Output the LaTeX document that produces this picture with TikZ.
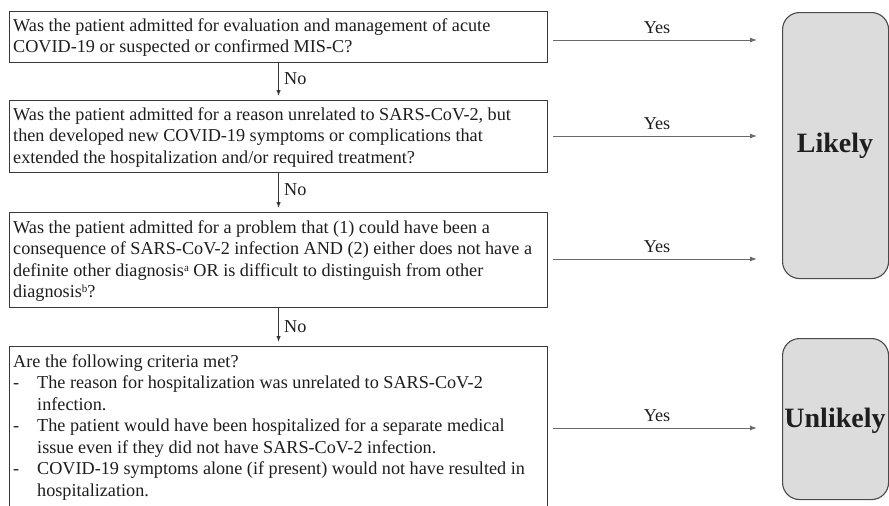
\documentclass[tikz,border=0pt]{standalone}
\usepackage{fontspec}
\setmainfont{Liberation Serif}
\usetikzlibrary{arrows.meta}
\definecolor{boxc}{HTML}{383838}
\definecolor{arrc}{HTML}{6A6A6A}
\definecolor{outc}{HTML}{4A4A4A}
\definecolor{outfill}{HTML}{DCDCDC}
\definecolor{txtc}{HTML}{1E1E1E}
\tikzset{
  qbox/.style={draw=boxc, line width=1.1pt, anchor=north west, inner sep=0pt},
  qtext/.style={anchor=north west, inner sep=0pt, align=left, text=txtc,
    font=\fontsize{18.2}{21.5}\selectfont},
  lbl/.style={inner sep=0pt, text=txtc, font=\fontsize{18.2}{21.5}\selectfont},
  yesarrow/.style={draw=arrc, line width=1pt, -{Latex[length=7pt,width=5pt]}},
  noarrow/.style={draw=boxc, line width=0.9pt, -{Latex[length=6pt,width=4.5pt]}},
  outbox/.style={draw=outc, fill=outfill, rounded corners=17pt, line width=1.1pt,
    anchor=north west, inner sep=0pt},
  outtext/.style={inner sep=0pt, text=txtc, font=\fontsize{28}{30}\selectfont\bfseries}
}
\begin{document}
\begin{tikzpicture}[x=1pt,y=-1pt]
\useasboundingbox (0,0) rectangle (889,506);
\fill[white] (0,0) rectangle (889,506);

% question boxes
\node[qbox, minimum width=538pt, minimum height=51pt] (q1) at (9,11) {};
\node[qbox, minimum width=538pt, minimum height=72pt] (q2) at (9,100) {};
\node[qbox, minimum width=538pt, minimum height=95pt] (q3) at (9,212) {};
\node[qbox, minimum width=538pt, minimum height=164pt] (q4) at (9,346) {};

% question texts
\node[qtext] (t1) at (13,15.95) {\strut Was the patient admitted for evaluation and management of acute\\
COVID-19 or suspected or confirmed MIS-C?};
\node[qtext] (t2) at (13,104.95) {\strut Was the patient admitted for a reason unrelated to SARS-CoV-2, but\\
then developed new COVID-19 symptoms or complications that\\
extended the hospitalization and/or required treatment?};
\node[qtext] (t3) at (13,217.95) {\strut Was the patient admitted for a problem that (1) could have been a\\
consequence of SARS-CoV-2 infection AND (2) either does not have a\\
definite other diagnosis{\fontsize{11}{11}\selectfont\raisebox{5pt}{a}} OR is difficult to distinguish from other\\
diagnosis{\fontsize{11}{11}\selectfont\raisebox{5pt}{b}}?};
\node[qtext] (t4) at (13,351.95) {\strut Are the following criteria met?\\
\makebox[24pt][l]{-}The reason for hospitalization was unrelated to SARS-CoV-2\\
\hspace*{24pt}infection.\\
\makebox[24pt][l]{-}The patient would have been hospitalized for a separate medical\\
\hspace*{24pt}issue even if they did not have SARS-CoV-2 infection.\\
\makebox[24pt][l]{-}COVID-19 symptoms alone (if present) would not have resulted in\\
\hspace*{24pt}hospitalization.};

% outcome boxes
\node[outbox, minimum width=106pt, minimum height=266pt] (likely) at (782,12) {};
\node[outbox, minimum width=106pt, minimum height=161pt] (unlikely) at (782,338) {};
\node[outtext, anchor=base] (lt) at (835,152) {Likely};
\node[outtext, anchor=base] (ut) at (835,427) {Unlikely};

% No arrows
\draw[noarrow] (q1.south) -- ([yshift=4pt]q2.north);
\draw[noarrow] (q2.south) -- ([yshift=4pt]q3.north);
\draw[noarrow] (q3.south) -- ([yshift=4pt]q4.north);
\node[lbl, anchor=base west] (n1) at (284,84) {No};
\node[lbl, anchor=base west] (n2) at (284,195) {No};
\node[lbl, anchor=base west] (n3) at (284,332) {No};

% Yes arrows
\coordinate (s1) at (553,40);
\coordinate (s2) at (553,136);
\coordinate (s3) at (553,259);
\coordinate (s4) at (553,428);
\draw[yesarrow] (s1) -- ([xshift=-25pt]likely.west |- s1);
\draw[yesarrow] (s2) -- ([xshift=-25pt]likely.west |- s2);
\draw[yesarrow] (s3) -- ([xshift=-25pt]likely.west |- s3);
\draw[yesarrow] (s4) -- ([xshift=-25pt]unlikely.west |- s4);
\node[lbl, anchor=base] (y1) at (657,33) {Yes};
\node[lbl, anchor=base] (y2) at (657,129) {Yes};
\node[lbl, anchor=base] (y3) at (657,252) {Yes};
\node[lbl, anchor=base] (y4) at (657,421) {Yes};
\end{tikzpicture}
\end{document}
